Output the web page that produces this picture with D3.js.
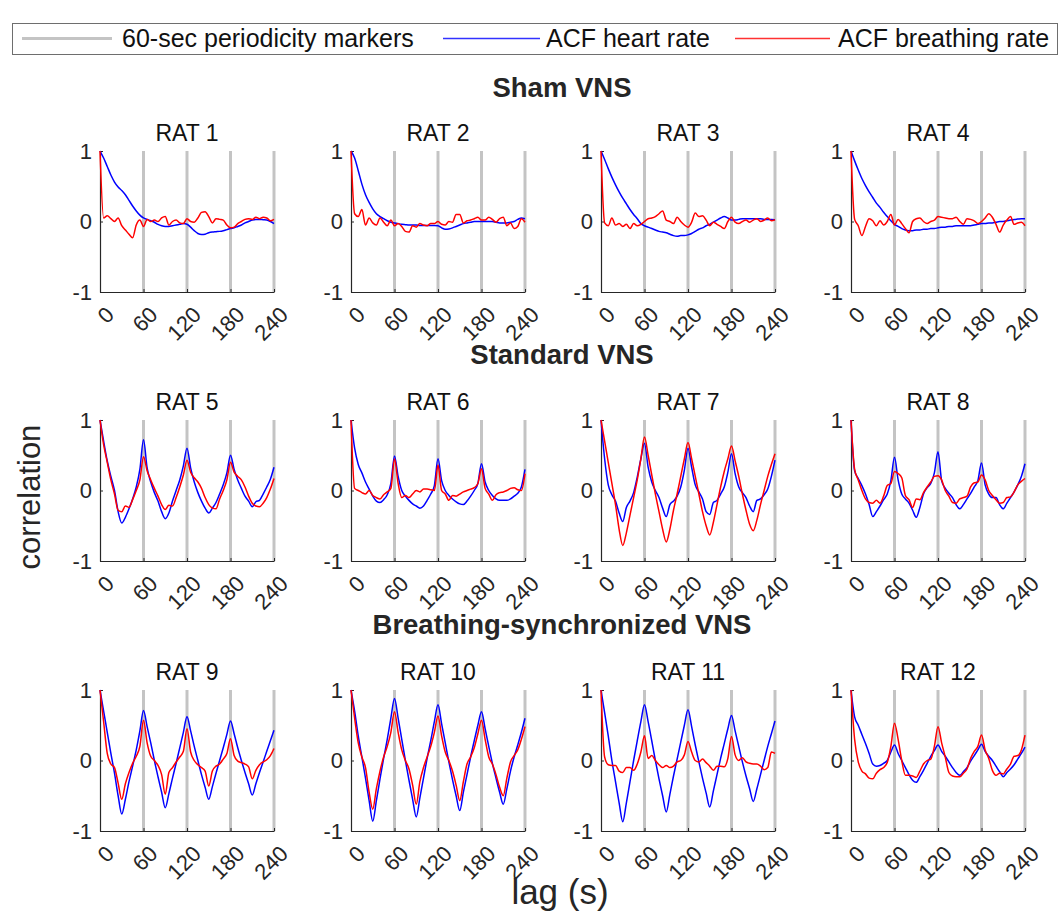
<!DOCTYPE html>
<html>
<head>
<meta charset="utf-8">
<script src="https://cdn.jsdelivr.net/npm/d3@7"></script>
<style>
  html, body { margin: 0; padding: 0; background: #fff; }
  svg { display: block; font-family: Arial, "Liberation Sans", sans-serif; }
</style>
</head>
<body>
<svg id="chart" width="1061" height="916"></svg>
<script>
// Lag axis (seconds), sampled every 5 s
const lags = d3.range(0, 241, 5);
const xTicks = [0, 60, 120, 180, 240];
const yTicks = [-1, 0, 1];
const markers = [60, 120, 180, 240];

const groupTitles = ["Sham VNS", "Standard VNS", "Breathing-synchronized VNS"];
const ratNames = ["RAT 1", "RAT 2", "RAT 3", "RAT 4", "RAT 5", "RAT 6",
                  "RAT 7", "RAT 8", "RAT 9", "RAT 10", "RAT 11", "RAT 12"];

// Autocorrelation of heart rate (hr) and breathing rate (br) per animal
const hrRat1 = [1.0,0.90,0.78,0.66,0.56,0.49,0.44,0.38,0.30,0.22,0.15,0.09,0.05,0.03,0.01,-0.01,-0.04,-0.06,-0.07,-0.07,-0.06,-0.05,-0.04,-0.03,-0.04,-0.08,-0.13,-0.17,-0.185,-0.18,-0.16,-0.15,-0.145,-0.14,-0.13,-0.115,-0.10,-0.09,-0.07,-0.05,-0.02,0.0,0.02,0.03,0.03,0.025,0.02,0.0,-0.03];
const brRat1 = [1.0,0.05,0.08,0.04,0.0,0.05,-0.06,-0.12,-0.18,-0.23,-0.05,0.02,-0.07,0.03,0.0,0.02,0.0,0.05,0.07,-0.05,0.0,0.02,-0.02,-0.03,0.04,0.0,-0.01,0.05,0.13,0.14,0.07,-0.02,0.04,0.03,0.02,-0.05,-0.09,-0.08,-0.03,0.0,0.03,0.04,0.03,0.06,0.04,0.06,0.05,0.01,0.03];

const hrRat2 = [1.0,0.90,0.72,0.53,0.38,0.27,0.18,0.11,0.07,0.04,0.01,-0.01,-0.02,-0.03,-0.04,-0.045,-0.05,-0.05,-0.05,-0.055,-0.055,-0.055,-0.055,-0.055,-0.06,-0.09,-0.11,-0.105,-0.09,-0.07,-0.05,-0.03,-0.02,-0.01,0.0,0.0,0.0,0.0,0.0,0.0,-0.01,-0.02,-0.02,-0.02,-0.01,0.0,0.03,0.05,0.04];
const brRat2 = [1.0,0.11,0.07,0.17,-0.05,0.05,-0.02,-0.05,0.05,-0.01,-0.06,0.02,-0.06,-0.03,-0.07,-0.14,-0.15,-0.06,-0.08,-0.03,-0.05,-0.06,-0.03,-0.03,0.0,-0.04,-0.05,0.0,-0.01,0.1,0.1,-0.02,0.01,0.02,0.04,0.06,0.02,0.02,0.06,0.03,-0.01,0.04,0.06,-0.06,-0.02,-0.1,-0.07,0.04,-0.01];

const hrRat3 = [1.0,0.88,0.75,0.63,0.52,0.42,0.33,0.25,0.17,0.10,0.04,-0.03,-0.06,-0.08,-0.1,-0.12,-0.14,-0.15,-0.16,-0.18,-0.2,-0.21,-0.2,-0.2,-0.19,-0.17,-0.14,-0.11,-0.09,-0.06,-0.04,-0.01,0.02,0.05,0.07,0.05,0.02,0.02,0.03,0.04,0.04,0.04,0.04,0.04,0.04,0.03,0.03,0.03,0.025];
const brRat3 = [1.0,-0.02,-0.06,0.05,-0.05,-0.03,-0.07,-0.04,-0.1,-0.03,-0.06,-0.04,0.0,0.04,0.05,0.07,0.11,0.15,0.02,0.0,-0.03,0.06,0.0,-0.05,-0.08,-0.01,0.12,0.07,0.08,0.02,-0.06,-0.01,-0.04,-0.07,-0.1,0.0,0.06,-0.01,-0.03,0.0,0.02,-0.01,0.02,0.04,0.0,0.02,0.05,0.01,0.025];

const hrRat4 = [1.0,0.86,0.73,0.61,0.51,0.42,0.34,0.26,0.2,0.13,0.07,0.01,-0.04,-0.07,-0.1,-0.12,-0.13,-0.13,-0.12,-0.12,-0.11,-0.11,-0.1,-0.1,-0.09,-0.08,-0.08,-0.07,-0.07,-0.06,-0.06,-0.06,-0.06,-0.06,-0.05,-0.04,-0.03,-0.03,-0.02,-0.02,-0.01,0.0,0.0,0.01,0.02,0.03,0.035,0.04,0.04];
const brRat4 = [1.0,0.03,-0.06,-0.2,-0.07,0.04,0.01,-0.06,0.01,-0.05,0.0,0.1,-0.05,0.03,-0.03,-0.1,-0.16,0.0,0.04,0.05,0.0,-0.03,0.0,0.02,0.07,0.06,0.05,0.04,0.04,0.06,0.0,-0.04,0.04,0.03,0.01,-0.03,0.0,0.05,0.11,0.06,-0.04,-0.15,-0.05,0.02,0.07,-0.04,-0.02,-0.01,-0.06];

const hrRat5 = [1.0,0.70,0.42,0.2,0.0,-0.3,-0.46,-0.38,-0.26,-0.12,0.05,0.3,0.72,0.32,0.12,-0.03,-0.15,-0.3,-0.4,-0.32,-0.15,0.0,0.15,0.35,0.6,0.32,0.12,-0.03,-0.15,-0.25,-0.32,-0.25,-0.17,-0.05,0.08,0.25,0.5,0.3,0.15,0.03,-0.08,-0.15,-0.23,-0.16,-0.14,-0.05,0.05,0.16,0.33];
const brRat5 = [1.0,0.65,0.4,0.15,-0.05,-0.28,-0.3,-0.22,-0.24,-0.13,0.0,0.15,0.48,0.28,0.15,0.03,-0.08,-0.2,-0.27,-0.21,-0.22,-0.1,0.05,0.22,0.43,0.26,0.18,0.12,0.03,-0.1,-0.2,-0.25,-0.26,-0.12,0.0,0.15,0.4,0.26,0.2,0.15,0.05,-0.08,-0.18,-0.22,-0.23,-0.18,-0.1,0.02,0.17];

const hrRat6 = [1.0,0.6,0.37,0.25,0.12,0.02,-0.08,-0.15,-0.17,-0.13,-0.06,0.1,0.49,0.2,0.0,-0.08,-0.14,-0.19,-0.22,-0.25,-0.22,-0.14,-0.05,0.07,0.45,0.14,0.0,-0.07,-0.12,-0.16,-0.19,-0.2,-0.15,-0.08,0.0,0.1,0.38,0.12,0.0,-0.07,-0.12,-0.14,-0.14,-0.14,-0.12,-0.08,-0.04,0.05,0.3];
const brRat6 = [1.0,0.03,0.0,-0.03,-0.05,0.0,-0.07,-0.1,-0.12,-0.06,-0.02,0.03,0.45,0.1,-0.1,-0.07,-0.1,-0.05,0.0,-0.02,0.02,0.02,0.01,0.0,0.36,0.0,-0.05,-0.14,-0.07,-0.08,-0.05,-0.02,0.0,0.02,0.04,0.1,0.31,0.03,-0.05,-0.14,-0.06,-0.03,-0.02,0.0,0.03,0.04,0.01,0.0,0.24];

const hrRat7 = [1.0,0.45,0.08,-0.06,-0.15,-0.32,-0.44,-0.24,-0.15,-0.03,0.19,0.45,0.67,0.33,0.12,0.0,-0.1,-0.25,-0.37,-0.2,-0.15,-0.08,0.05,0.29,0.6,0.33,0.08,-0.02,-0.12,-0.3,-0.34,-0.17,-0.14,-0.05,0.05,0.26,0.52,0.24,0.05,-0.03,-0.1,-0.22,-0.3,-0.14,-0.12,-0.06,0.02,0.2,0.43];
const brRat7 = [1.0,0.7,0.4,0.1,-0.2,-0.55,-0.78,-0.6,-0.35,-0.1,0.15,0.45,0.76,0.5,0.22,-0.05,-0.3,-0.55,-0.73,-0.55,-0.28,-0.05,0.2,0.45,0.68,0.45,0.2,-0.05,-0.3,-0.5,-0.63,-0.45,-0.2,0.05,0.27,0.45,0.63,0.42,0.2,-0.05,-0.28,-0.48,-0.57,-0.42,-0.2,0.0,0.2,0.37,0.52];

const hrRat8 = [1.0,0.28,0.17,0.07,-0.05,-0.2,-0.37,-0.3,-0.22,-0.13,-0.05,0.14,0.47,0.15,-0.05,-0.12,-0.18,-0.28,-0.38,-0.24,-0.05,0.04,0.1,0.25,0.55,0.14,0.03,-0.04,-0.1,-0.2,-0.26,-0.2,-0.12,-0.04,0.05,0.14,0.39,0.08,-0.05,-0.1,-0.1,-0.2,-0.26,-0.18,-0.1,-0.02,0.08,0.2,0.38];
const brRat8 = [1.0,0.3,0.15,0.0,-0.12,-0.17,-0.18,-0.14,-0.18,-0.08,0.07,0.1,0.27,0.24,0.18,-0.07,-0.13,-0.24,-0.12,-0.13,-0.03,0.05,0.12,0.2,0.21,0.15,0.0,-0.08,-0.17,-0.18,-0.12,-0.1,-0.08,0.05,0.11,0.12,0.22,0.15,0.0,-0.07,-0.13,-0.18,-0.17,-0.1,-0.09,-0.02,0.08,0.13,0.17];

const hrRat9 = [1.0,0.7,0.4,0.1,-0.18,-0.5,-0.76,-0.55,-0.3,-0.08,0.15,0.42,0.71,0.48,0.25,0.0,-0.23,-0.45,-0.67,-0.47,-0.25,-0.04,0.18,0.4,0.62,0.42,0.2,0.0,-0.2,-0.38,-0.55,-0.37,-0.18,0.0,0.18,0.37,0.56,0.38,0.18,0.0,-0.17,-0.33,-0.49,-0.33,-0.17,-0.02,0.13,0.28,0.43];
const brRat9 = [1.0,0.55,0.1,-0.05,-0.1,-0.32,-0.55,-0.33,-0.17,-0.04,0.06,0.2,0.57,0.25,0.06,0.0,-0.07,-0.2,-0.48,-0.17,-0.1,-0.02,0.05,0.13,0.45,0.12,0.0,-0.06,-0.1,-0.15,-0.36,-0.15,-0.08,-0.05,0.02,0.1,0.31,0.07,-0.01,-0.03,-0.05,-0.09,-0.26,-0.14,-0.06,-0.02,0.01,0.07,0.17];

const hrRat10 = [1.0,0.7,0.35,0.05,-0.25,-0.57,-0.86,-0.57,-0.26,0.03,0.3,0.6,0.88,0.6,0.3,0.0,-0.28,-0.55,-0.8,-0.53,-0.25,0.03,0.28,0.55,0.79,0.52,0.25,-0.02,-0.27,-0.5,-0.71,-0.45,-0.2,0.05,0.28,0.5,0.69,0.45,0.2,-0.04,-0.25,-0.45,-0.62,-0.4,-0.15,0.05,0.22,0.4,0.6];
const brRat10 = [1.0,0.6,0.25,0.05,-0.1,-0.45,-0.69,-0.4,-0.15,0.05,0.2,0.4,0.69,0.4,0.15,0.0,-0.12,-0.35,-0.62,-0.3,-0.1,0.05,0.2,0.4,0.63,0.35,0.12,0.0,-0.15,-0.35,-0.57,-0.3,-0.05,0.05,0.18,0.38,0.57,0.3,0.05,-0.05,-0.2,-0.38,-0.5,-0.25,-0.02,0.07,0.15,0.3,0.48];

const hrRat11 = [1.0,0.68,0.35,0.0,-0.3,-0.6,-0.87,-0.6,-0.3,0.0,0.28,0.55,0.79,0.55,0.28,0.0,-0.26,-0.5,-0.73,-0.48,-0.22,0.02,0.26,0.5,0.72,0.48,0.22,-0.02,-0.25,-0.46,-0.66,-0.43,-0.2,0.03,0.24,0.45,0.64,0.42,0.2,-0.02,-0.22,-0.4,-0.58,-0.4,-0.2,0.0,0.2,0.38,0.56];
const brRat11 = [1.0,0.05,-0.06,-0.07,-0.07,-0.15,-0.17,-0.1,-0.1,-0.14,-0.05,0.12,0.35,0.03,0.07,0.0,-0.06,-0.1,-0.07,-0.1,-0.08,-0.02,0.0,0.08,0.27,0.12,0.0,-0.02,0.02,-0.03,-0.08,-0.14,-0.08,-0.08,-0.09,0.03,0.34,0.08,0.0,0.04,-0.02,-0.04,-0.05,-0.05,-0.08,-0.13,-0.1,0.12,0.1];

const hrRat12 = [1.0,0.62,0.5,0.37,0.24,0.1,-0.05,-0.08,-0.07,-0.04,0.0,0.12,0.22,0.1,0.0,-0.1,-0.2,-0.28,-0.31,-0.23,-0.14,-0.04,0.06,0.14,0.22,0.13,0.06,-0.02,-0.1,-0.17,-0.21,-0.16,-0.1,-0.01,0.07,0.15,0.23,0.13,0.06,0.0,-0.08,-0.16,-0.23,-0.17,-0.12,-0.06,0.02,0.1,0.19];
const brRat12 = [1.0,0.3,-0.02,-0.15,-0.19,-0.25,-0.26,-0.18,-0.13,-0.1,-0.03,0.2,0.53,0.3,0.0,-0.21,-0.21,-0.22,-0.24,-0.15,-0.05,0.0,0.02,0.2,0.48,0.25,0.05,-0.17,-0.22,-0.23,-0.23,-0.18,-0.12,0.03,0.13,0.2,0.36,0.15,0.03,-0.14,-0.21,-0.18,-0.19,-0.12,-0.05,0.06,0.07,0.15,0.36];

const heartSeries = [hrRat1, hrRat2, hrRat3, hrRat4, hrRat5, hrRat6, hrRat7, hrRat8, hrRat9, hrRat10, hrRat11, hrRat12];
const breathSeries = [brRat1, brRat2, brRat3, brRat4, brRat5, brRat6, brRat7, brRat8, brRat9, brRat10, brRat11, brRat12];

const legendItems = [
  { label: "60-sec periodicity markers", color: "#c4c4c4", width: 3 },
  { label: "ACF heart rate", color: "#0000ff", width: 1.5 },
  { label: "ACF breathing rate", color: "#ff0000", width: 1.5 }
];

// ---- layout ----
const svg = d3.select("#chart");
const axisColor = "#262626";
const fontStack = "Arial, 'Liberation Sans', sans-serif";
const colX0 = [100, 351, 601, 851];
const rowTop = [151, 420, 690];
const plotW = 174, plotH = 141;

// Legend
const legend = svg.append("g");
legend.append("rect").attr("x", 12.5).attr("y", 23.5).attr("width", 1045).attr("height", 31)
  .attr("fill", "#fff").attr("stroke", "#6e6e6e").attr("stroke-width", 1);
const legendPos = [[22, 112, 122], [443, 540, 546], [735, 830, 838]];
legendItems.forEach((d, i) => {
  const [a, b, t] = legendPos[i];
  legend.append("line").attr("x1", a).attr("x2", b).attr("y1", 38.5).attr("y2", 38.5)
    .attr("stroke", d.color).attr("stroke-width", d.width).attr("opacity", i === 0 ? 1 : 0.8);
  legend.append("text").attr("x", t).attr("y", 47).attr("font-size", 25).attr("fill", "#111")
    .text(d.label);
});

// Group titles
const groupTitleY = [97, 364, 634];
groupTitles.forEach((g, i) => {
  svg.append("text").attr("x", 562).attr("y", groupTitleY[i]).attr("text-anchor", "middle")
    .attr("font-size", 27.5).attr("font-weight", "bold").attr("fill", "#262626").text(g);
});

// Shared axis labels
svg.append("text").attr("transform", "translate(40,497) rotate(-90)").attr("text-anchor", "middle")
  .attr("font-size", 31).attr("fill", "#262626").text("correlation");
svg.append("text").attr("x", 560).attr("y", 904).attr("text-anchor", "middle")
  .attr("font-size", 35).attr("fill", "#262626").text("lag (s)");

// Panels
ratNames.forEach((name, k) => {
  const r = Math.floor(k / 4), c = k % 4;
  const x = d3.scaleLinear().domain([0, 240]).range([colX0[c], colX0[c] + plotW]);
  const y = d3.scaleLinear().domain([-1, 1]).range([rowTop[r] + plotH, rowTop[r]]);
  const g = svg.append("g");

  // 60-s periodicity markers
  g.selectAll("line.marker").data(markers).join("line")
    .attr("x1", d => x(d)).attr("x2", d => x(d))
    .attr("y1", y(-1)).attr("y2", y(1))
    .attr("stroke", "#c4c4c4").attr("stroke-width", 3);

  // Axes (plain hyphen for negative labels)
  const yAxis = d3.axisLeft(y).tickValues(yTicks).tickSizeInner(-3).tickSizeOuter(0)
    .tickPadding(8).tickFormat(d => String(d));
  const ya = g.append("g").attr("transform", `translate(${colX0[c]},0)`).call(yAxis);
  ya.select(".domain").attr("stroke", axisColor).attr("stroke-width", 1.2);
  ya.selectAll(".tick line").attr("stroke", axisColor);
  ya.selectAll("text").attr("font-size", 22).attr("fill", axisColor).attr("font-family", fontStack);

  const xAxis = d3.axisBottom(x).tickValues(xTicks).tickSizeInner(-3).tickSizeOuter(0)
    .tickFormat(d => String(d));
  const xa = g.append("g").attr("transform", `translate(0,${y(-1)})`).call(xAxis);
  xa.select(".domain").attr("stroke", axisColor).attr("stroke-width", 1.2);
  xa.selectAll(".tick line").attr("stroke", axisColor);
  xa.selectAll("text")
    .attr("font-size", 22).attr("fill", axisColor).attr("font-family", fontStack)
    .attr("text-anchor", "end").attr("dy", null).attr("y", null)
    .attr("transform", "translate(15,24) rotate(-45)");

  // Title
  g.append("text").attr("x", x(120)).attr("y", y(1) - 10).attr("text-anchor", "middle")
    .attr("font-size", 23).attr("fill", "#111").text(name);

  const line = d3.line().x((d, i) => x(lags[i])).y(d => y(d)).curve(d3.curveMonotoneX);
  g.append("path").datum(heartSeries[k]).attr("d", line)
    .attr("fill", "none").attr("stroke", "#0000ff").attr("stroke-width", 1.5);
  g.append("path").datum(breathSeries[k]).attr("d", line)
    .attr("fill", "none").attr("stroke", "#ff0000").attr("stroke-width", 1.5);
});
</script>
</body>
</html>
